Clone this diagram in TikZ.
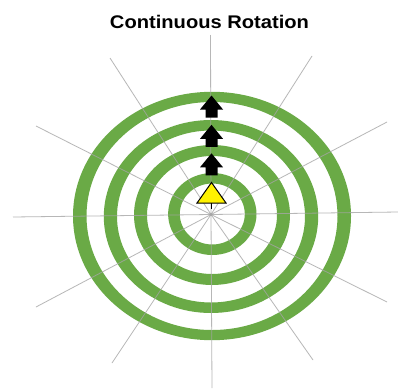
\documentclass[tikz,border=0pt]{standalone}
\usepackage{fontspec}
\setmainfont{Liberation Sans}
\definecolor{ringgreen}{RGB}{106,170,70}
\definecolor{spokegray}{RGB}{165,165,165}
\tikzset{
  ring/.style={fill=ringgreen, even odd rule},
  spoke/.style={draw=spokegray, line width=0.8pt, opacity=0.8},
  blockarrow/.style={fill=black},
  marker/.style={fill=yellow, draw=black, line width=1pt, line join=miter},
}
\begin{document}
\begin{tikzpicture}[x=1pt,y=-1pt]
\useasboundingbox (0,0) rectangle (398,388);
\fill[white] (0,0) rectangle (398,388);
% title
\node[font=\bfseries\fontsize{18.3}{20}\selectfont, xscale=1.1, anchor=base, inner sep=0pt] (title) at (209.5,28) {Continuous Rotation};
% rings
\fill[ring] (212,216) ellipse [x radius=139pt, y radius=124.2pt] (212,216) ellipse [x radius=125.5pt, y radius=114pt];
\fill[ring] (211,216.5) ellipse [x radius=107.2pt, y radius=96.5pt] (211,216.5) ellipse [x radius=94pt, y radius=86pt];
\fill[ring] (212,215) ellipse [x radius=78pt, y radius=70pt] (212,215) ellipse [x radius=65pt, y radius=59pt];
\fill[ring] (212.3,214) ellipse [x radius=44.2pt, y radius=41pt] (212.3,214) ellipse [x radius=32.5pt, y radius=30.5pt];
% spokes
\coordinate (o) at (211,214.5);
\coordinate (s1) at (210.5,35);
\coordinate (s2) at (212,388);
\coordinate (s3) at (13,217);
\coordinate (s4) at (398,212);
\coordinate (s5) at (110,58);
\coordinate (s6) at (312,56);
\coordinate (s7) at (36,126);
\coordinate (s8) at (387,122);
\coordinate (s9) at (36,307);
\coordinate (s10) at (112,363);
\coordinate (s11) at (387,302);
\coordinate (s12) at (313,360);
\foreach \s in {s1,s2,s3,s4,s5,s6,s7,s8,s9,s10,s11,s12}
  \draw[spoke] (o) -- (\s);
\fill[spokegray] (o) circle [radius=1.6pt];
% block arrows
\foreach \t/\n in {95.5/a1,124.8/a2,153.3/a3}{
  \fill[blockarrow] (211.5,\t) coordinate (\n)
    -- (223,\t+14) -- (217.5,\t+14) -- (217.5,\t+22) -- (205.5,\t+22)
    -- (205.5,\t+14) -- (200,\t+14) -- cycle;
}
% triangle marker
\coordinate (tb) at (211.5,203);
\coordinate (tp) at (211.5,208.5);
\draw[black, line width=1pt] (tb) -- (tp);
\draw[marker] (211.5,182.5) coordinate (apex) -- (226,203) -- (197,203) -- cycle;
\end{tikzpicture}
\end{document}
